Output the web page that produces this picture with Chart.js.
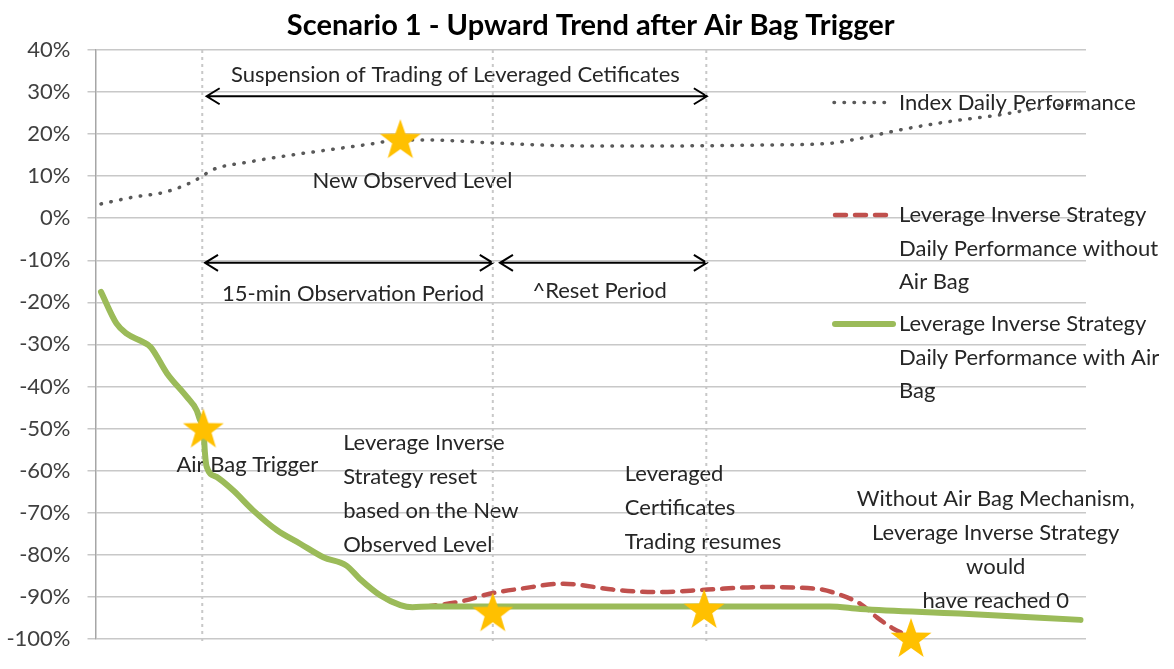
<html>
<head>
<script src="https://cdn.jsdelivr.net/npm/chart.js@4.4.3/dist/chart.umd.min.js"></script>
<style>
  body { margin: 0; background: #fff; }
</style>
</head>
<body>
<canvas id="mychart" width="1174" height="669"></canvas>
<script>
// time steps along the x axis, values in percent
indexX = [0.5, 3.4, 6.3, 8.6, 9.7, 10.6, 14.0, 17.7, 21.3, 24.9, 27.7, 30.4, 36.1, 44.0, 53.1, 60.6, 66.7, 69.5, 73.1, 77.6, 82.2, 86.7, 89.5];
indexY = [3.4, 5.0, 6.2, 8.4, 10.0, 11.5, 13.4, 15.0, 16.3, 17.6, 18.6, 18.6, 17.9, 17.2, 17.2, 17.4, 17.8, 19.0, 21.0, 23.0, 24.6, 26.6, 27.2];

noBagX = [0.5, 1.9, 2.8, 4.3, 5.0, 6.5, 8.3, 9.2, 9.5, 9.8, 9.95, 10.1, 11.0, 12.5, 14.3, 16.5, 18.6, 20.7, 22.8, 24.0, 25.9, 27.7, 28.8, 31.0, 33.4, 35.8, 38.6, 42.5, 44.0, 47.0, 51.0, 55.6, 60.4, 65.5, 67.4, 69.5, 71.0, 72.5, 73.4];
noBagY = [-17.5, -25.0, -27.4, -29.4, -30.6, -36.9, -42.5, -45.7, -48.0, -50.0, -56.0, -59.1, -61.5, -64.7, -69.4, -74.2, -77.4, -80.6, -82.6, -85.7, -89.7, -92.0, -92.5, -92.0, -91.0, -89.3, -88.1, -86.9, -87.2, -88.3, -88.9, -88.3, -87.7, -88.1, -89.3, -91.7, -94.9, -97.6, -98.8];

bagX = [0.5, 1.9, 2.8, 4.3, 5.0, 6.5, 8.3, 9.2, 9.5, 9.8, 9.95, 10.1, 11.0, 12.5, 14.3, 16.5, 18.6, 20.7, 22.8, 24.0, 25.9, 27.7, 28.8, 30.4, 66.7, 69.5, 78.5, 89.5];
bagY = [-17.5, -25.0, -27.4, -29.4, -30.6, -36.9, -42.5, -45.7, -48.0, -50.0, -56.0, -59.1, -61.5, -64.7, -69.4, -74.2, -77.4, -80.6, -82.6, -85.7, -89.7, -92.0, -92.5, -92.3, -92.3, -92.9, -94.0, -95.5];

starX = [27.7, 9.8, 36.1, 55.3, 74.1];
starY = [18.8, -50.0, -93.7, -92.9, -99.8];

phaseX = [9.7, 36.1, 55.5];

yTicks = [40, 30, 20, 10, 0, -10, -20, -30, -40, -50, -60, -70, -80, -90, -100];

seriesNames = [
    ["Index Daily Performance"],
    ["Leverage Inverse Strategy", "Daily Performance without", "Air Bag"],
    ["Leverage Inverse Strategy", "Daily Performance with Air", "Bag"]
];

// arrows: from x, to x, at y
arrows = [[10.1, 55.55, 29.0], [9.95, 36.1, -10.6], [36.75, 55.55, -10.6]];

// text notes: x, y of first line, alignment, lines
notes = [
    [32.7, 34.0, "center", ["Suspension of Trading of Leveraged Cetificates"]],
    [28.8, 8.8, "center", ["New Observed Level"]],
    [23.4, -18.0, "center", ["15-min Observation Period"]],
    [45.8, -17.2, "center", ["^Reset Period"]],
    [13.8, -58.7, "center", ["Air Bag Trigger"]],
    [22.5, -53.5, "left", ["Leverage Inverse", "Strategy reset", "based on the New", "Observed Level"]],
    [48.1, -60.9, "left", ["Leveraged", "Certificates", "Trading resumes"]],
    [81.8, -66.8, "center", ["Without Air Bag Mechanism,", "Leverage Inverse Strategy", "would", "have reached 0"]]
];

FONT = "Lato";
LINE_GAP = 34;

function pts(xs, ys) {
    return xs.map(function (x, i) { return { x: x, y: ys[i] }; });
}

function makeStar() {
    var c = document.createElement("canvas");
    c.width = 46; c.height = 44;
    var g = c.getContext("2d");
    var R = 21.5, r = 8.6, cx = 23, cy = 23.5;
    g.beginPath();
    for (var k = 0; k < 10; k++) {
        var a = -Math.PI / 2 + k * Math.PI / 5;
        var rr = k % 2 ? r : R;
        g.lineTo(cx + rr * Math.cos(a), cy + rr * Math.sin(a));
    }
    g.closePath();
    g.fillStyle = "#FFC000";
    g.fill();
    return c;
}

phaseSets = phaseX.map(function (x) {
    return {
        label: "phase",
        data: [{ x: x, y: 40 }, { x: x, y: -101 }],
        borderColor: "#c8c8c8",
        borderWidth: 2,
        borderDash: [3, 4],
        pointRadius: 0,
        clip: false,
        order: 10
    };
});

notesPlugin = {
    id: "notes",
    beforeDatasetsDraw: function (chart) {
        var ctx = chart.ctx, xs = chart.scales.x, ys = chart.scales.y;
        ctx.save();
        ctx.strokeStyle = "#000";
        ctx.lineWidth = 2;
        arrows.forEach(function (a) {
            var x1 = xs.getPixelForValue(a[0]), x2 = xs.getPixelForValue(a[1]), y = ys.getPixelForValue(a[2]);
            ctx.beginPath();
            ctx.moveTo(x1, y); ctx.lineTo(x2, y);
            ctx.moveTo(x1 + 13, y - 8); ctx.lineTo(x1, y); ctx.lineTo(x1 + 13, y + 8);
            ctx.moveTo(x2 - 13, y - 8); ctx.lineTo(x2, y); ctx.lineTo(x2 - 13, y + 8);
            ctx.stroke();
        });
        ctx.fillStyle = "#262626";
        ctx.font = "22px " + FONT;
        ctx.textBaseline = "middle";
        notes.forEach(function (n) {
            ctx.textAlign = n[2];
            var x = xs.getPixelForValue(n[0]), y = ys.getPixelForValue(n[1]);
            n[3].forEach(function (line, i) { ctx.fillText(line, x, y + i * LINE_GAP); });
        });

        // legend, laid over the plot on the right
        ctx.textAlign = "left";
        var rows = [102.5, 215, 324];
        var styles = chart.data.datasets;
        seriesNames.forEach(function (lines, i) {
            var ds = styles[i], y = rows[i];
            ctx.save();
            ctx.strokeStyle = ds.borderColor;
            ctx.lineWidth = ds.borderWidth;
            ctx.lineCap = ds.borderCapStyle || "butt";
            ctx.setLineDash(ds.borderDash || []);
            ctx.beginPath();
            ctx.moveTo(i == 0 ? 834 : 835, y);
            ctx.lineTo(i == 2 ? 893 : 888, y);
            ctx.stroke();
            ctx.restore();
            lines.forEach(function (line, j) { ctx.fillText(line, 899, y + j * 33.5); });
        });
        ctx.restore();
    }
};

datasets = [
    {
        label: seriesNames[0].join(" "),
        data: pts(indexX, indexY),
        borderColor: "#595959",
        borderWidth: 3.5,
        borderDash: [0.5, 9.5],
        borderCapStyle: "round",
        cubicInterpolationMode: "monotone",
        pointRadius: 0,
        order: 3
    },
    {
        label: seriesNames[1].join(" "),
        data: pts(noBagX, noBagY),
        borderColor: "#C0504D",
        borderWidth: 4.5,
        borderDash: [11, 9],
        borderCapStyle: "round",
        cubicInterpolationMode: "monotone",
        pointRadius: 0,
        order: 4
    },
    {
        label: seriesNames[2].join(" "),
        data: pts(bagX, bagY),
        borderColor: "#9BBB59",
        borderWidth: 6,
        borderCapStyle: "round",
        cubicInterpolationMode: "monotone",
        pointRadius: 0,
        order: 2
    },
    {
        label: "stars",
        data: pts(starX, starY),
        showLine: false,
        pointStyle: makeStar(),
        pointRadius: 20,
        clip: false,
        order: 0
    }
].concat(phaseSets);

new Chart(document.querySelector("#mychart"), {
    type: "line",
    data: { datasets: datasets },
    options: {
        responsive: false,
        animation: false,
        layout: { padding: { left: 0, right: 0, top: 0, bottom: 28 } },
        plugins: {
            legend: { display: false },
            tooltip: { enabled: false },
            title: {
                display: true,
                fullSize: false,
                text: "Scenario 1 - Upward Trend after Air Bag Trigger",
                color: "#000",
                font: { family: FONT, size: 29, weight: "bold", lineHeight: 1.2 },
                padding: { top: 8, bottom: 7.2 }
            }
        },
        scales: {
            x: { type: "linear", min: 0, max: 90, display: false },
            y: {
                min: -100, max: 40,
                afterFit: function (s) { s.width = 95.5; },
                afterBuildTicks: function (s) { s.ticks = yTicks.map(function (v) { return { value: v }; }); },
                ticks: {
                    padding: 17,
                    color: "#404040",
                    font: { family: FONT, size: 22 },
                    callback: function (v) { return v + "%"; }
                },
                grid: { color: "#c8c8c8", lineWidth: 1.5, tickLength: 8 },
                border: { color: "#a6a6a6", width: 1.5 }
            },
            // empty right-hand strip that keeps the plot clear of the legend column
            side: {
                position: "right",
                min: -100, max: 40,
                afterFit: function (s) { s.width = 88; },
                ticks: { display: false },
                grid: { display: false },
                border: { display: false }
            }
        }
    },
    plugins: [notesPlugin]
});
</script>
</body>
</html>
